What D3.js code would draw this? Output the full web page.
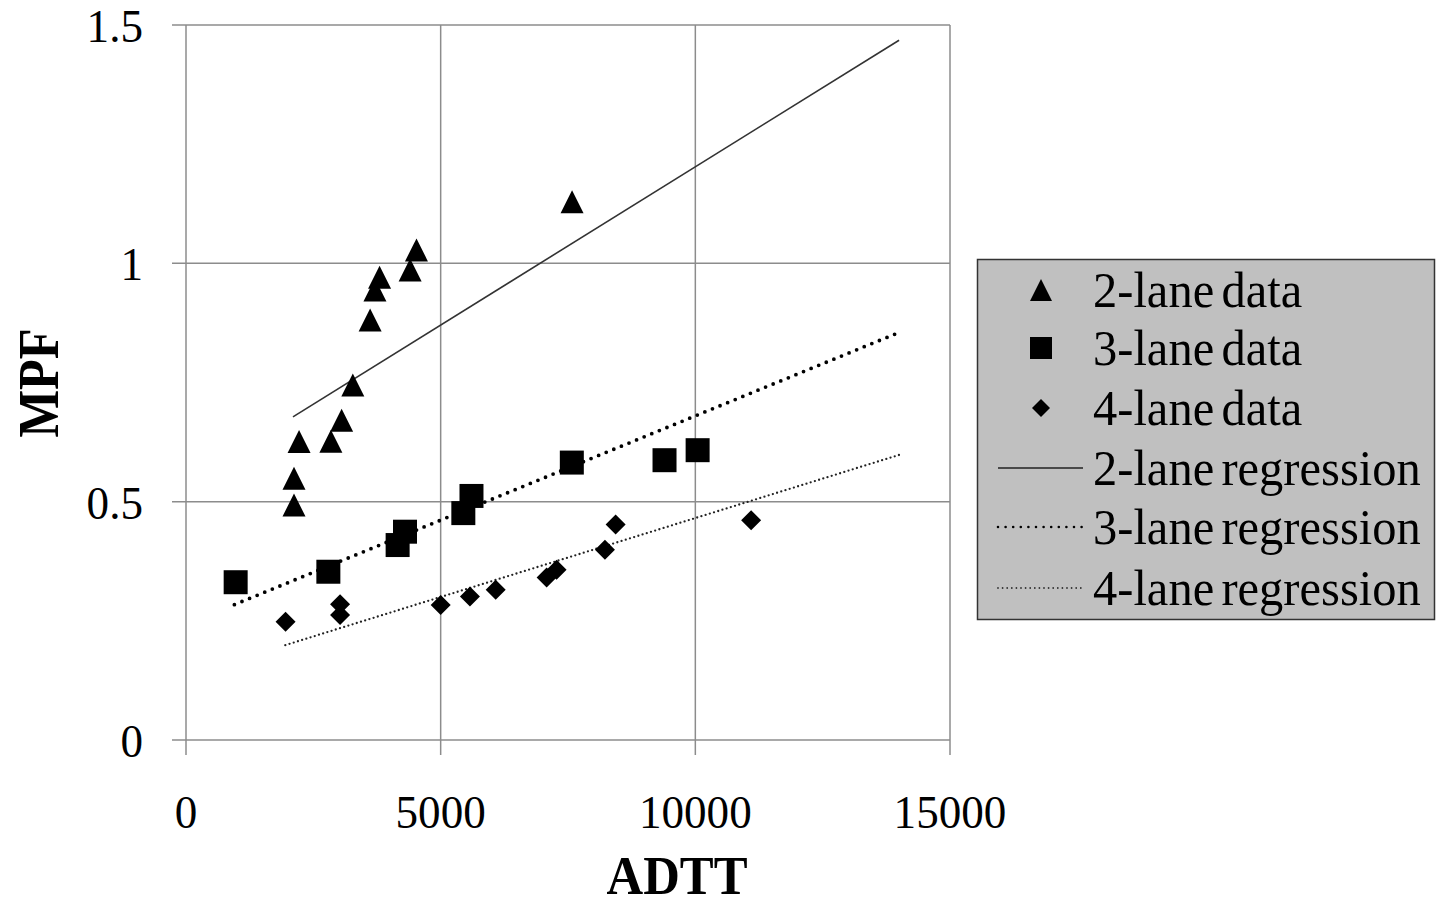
<!DOCTYPE html>
<html>
<head>
<meta charset="utf-8">
<script src="https://cdn.jsdelivr.net/npm/d3@7"></script>
<style>
  html, body { margin: 0; padding: 0; background: #fff; }
</style>
</head>
<body>
<svg id="chart" width="1445" height="905"></svg>
<script>
// ADTT vs MPF observations by number of lanes
const twoLaneADTT = [7580, 4525, 4400, 3800, 3710, 3615, 3275, 3055, 2845, 2220, 2120, 2120];
const twoLaneMPF  = [1.129, 1.028, 0.986, 0.971, 0.944, 0.881, 0.745, 0.671, 0.627, 0.626, 0.549, 0.493];

const threeLaneADTT = [975, 2795, 4155, 4300, 5445, 5605, 7575, 9395, 10045];
const threeLaneMPF  = [0.331, 0.353, 0.409, 0.437, 0.476, 0.512, 0.582, 0.587, 0.608];

const fourLaneADTT = [1955, 3025, 3025, 5000, 5575, 6080, 7080, 7275, 8225, 8435, 11095];
const fourLaneMPF  = [0.248, 0.285, 0.262, 0.283, 0.301, 0.315, 0.341, 0.357, 0.399, 0.452, 0.461];

// Fitted regression lines (start and end points)
const twoLaneRegADTT = [2100, 14000];
const twoLaneRegMPF  = [0.678, 1.468];
const threeLaneRegADTT = [950, 14000];
const threeLaneRegMPF  = [0.284, 0.855];
const fourLaneRegADTT = [1950, 14000];
const fourLaneRegMPF  = [0.199, 0.598];

const xTicks = [0, 5000, 10000, 15000];
const yTicks = [0, 0.5, 1, 1.5];
const yTickLabels = ["0", "0.5", "1", "1.5"];

const legendLabels = ["2-lane data", "3-lane data", "4-lane data",
                      "2-lane regression", "3-lane regression", "4-lane regression"];

const svg = d3.select("#chart");
const x = d3.scaleLinear().domain([0, 15000]).range([186, 950]);
const y = d3.scaleLinear().domain([0, 1.5]).range([740, 25]);

const gridColor = "#8c8c8c";
const fontStack = "'Liberation Serif', 'Times New Roman', Times, 'DejaVu Serif', serif";

function label(g, tx, ty, str, size, anchor, weight, rotate, squeeze, wordSpacing) {
  const t = g.append("g")
    .attr("transform", `translate(${tx},${ty})` + (rotate ? ` rotate(${rotate})` : "") +
      ` scale(${squeeze || 0.9},1)`);
  t.append("text")
    .attr("font-family", fontStack)
    .attr("text-anchor", anchor)
    .attr("font-size", size)
    .attr("font-weight", weight || "normal")
    .attr("word-spacing", wordSpacing || 0)
    .attr("fill", "#000")
    .text(str);
}

// Gridlines and tick marks
const grid = svg.append("g");
grid.selectAll("line.h").data(yTicks).join("line")
  .attr("x1", x(0) - 14).attr("x2", x(15000))
  .attr("y1", d => y(d)).attr("y2", d => y(d))
  .attr("stroke", gridColor).attr("stroke-width", 1.5);
grid.selectAll("line.v").data(xTicks).join("line")
  .attr("x1", d => x(d)).attr("x2", d => x(d))
  .attr("y1", y(1.5)).attr("y2", y(0) + 15)
  .attr("stroke", gridColor).attr("stroke-width", 1.5);

// Tick labels
const labels = svg.append("g");
yTicks.forEach((d, i) => label(labels, 143, y(d) + 17, yTickLabels[i], 47, "end", null, null, 0.96));
xTicks.forEach(d => label(labels, x(d), 828, String(d), 47, "middle", null, null, 0.96));

// Axis titles
label(labels, 677, 894, "ADTT", 54, "middle", "bold", null, 0.94);
label(labels, 58, 383, "MPF", 56, "middle", "bold", -90);

// Regression lines
const line = d3.line().x(d => x(d[0])).y(d => y(d[1]));
const regs = [
  { xs: twoLaneRegADTT, ys: twoLaneRegMPF, stroke: "#333", width: 1.6, dash: null, cap: "butt" },
  { xs: threeLaneRegADTT, ys: threeLaneRegMPF, stroke: "#000", width: 3.8, dash: "0 8.2", cap: "round" },
  { xs: fourLaneRegADTT, ys: fourLaneRegMPF, stroke: "#222", width: 2.3, dash: "0 4.4", cap: "round" }
];
svg.append("g").selectAll("path").data(regs).join("path")
  .attr("d", r => line(r.xs.map((v, i) => [v, r.ys[i]])))
  .attr("fill", "none")
  .attr("stroke", r => r.stroke)
  .attr("stroke-width", r => r.width)
  .attr("stroke-dasharray", r => r.dash)
  .attr("stroke-linecap", r => r.cap);

// Marker shapes
const shapes = {
  triangle: s => `M0,${-s / 2}L${s / 2},${s / 2}L${-s / 2},${s / 2}Z`,
  square: s => `M${-s / 2},${-s / 2}H${s / 2}V${s / 2}H${-s / 2}Z`,
  diamond: s => `M0,${-s / 2}L${s / 2},0L0,${s / 2}L${-s / 2},0Z`
};
const series = [
  { xs: twoLaneADTT, ys: twoLaneMPF, shape: "triangle", size: 23 },
  { xs: threeLaneADTT, ys: threeLaneMPF, shape: "square", size: 24 },
  { xs: fourLaneADTT, ys: fourLaneMPF, shape: "diamond", size: 20 }
];
const marks = svg.append("g");
series.forEach(s => {
  marks.append("g").selectAll("path").data(s.xs.map((v, i) => [v, s.ys[i]])).join("path")
    .attr("transform", d => `translate(${x(d[0])},${y(d[1])})`)
    .attr("d", shapes[s.shape](s.size))
    .attr("fill", "#000");
});

// Legend
const legend = svg.append("g");
legend.append("rect")
  .attr("x", 977.5).attr("y", 259.5).attr("width", 457).attr("height", 360)
  .attr("fill", "#c0c0c0").attr("stroke", "#333").attr("stroke-width", 1.5);
const rowY = [290, 348, 408, 468, 527, 588];
series.forEach((s, i) => {
  legend.append("path")
    .attr("transform", `translate(1041,${rowY[i]})`)
    .attr("d", shapes[s.shape](i === 2 ? 18 : 22))
    .attr("fill", "#000");
});
const legendLineStyles = [
  { stroke: "#222", width: 1.6, dash: null, cap: "butt" },
  { stroke: "#000", width: 2.6, dash: "0 7.6", cap: "round" },
  { stroke: "#333", width: 1.8, dash: "0 4.6", cap: "round" }
];
legendLineStyles.forEach((st, i) => {
  legend.append("line")
    .attr("x1", 998).attr("x2", 1083)
    .attr("y1", rowY[i + 3]).attr("y2", rowY[i + 3])
    .attr("stroke", st.stroke).attr("stroke-width", st.width)
    .attr("stroke-dasharray", st.dash).attr("stroke-linecap", st.cap);
});
legendLabels.forEach((t, i) => label(legend, 1093, rowY[i] + 17, t, 50, "start", null, null, 0.97, -5));
</script>
</body>
</html>
